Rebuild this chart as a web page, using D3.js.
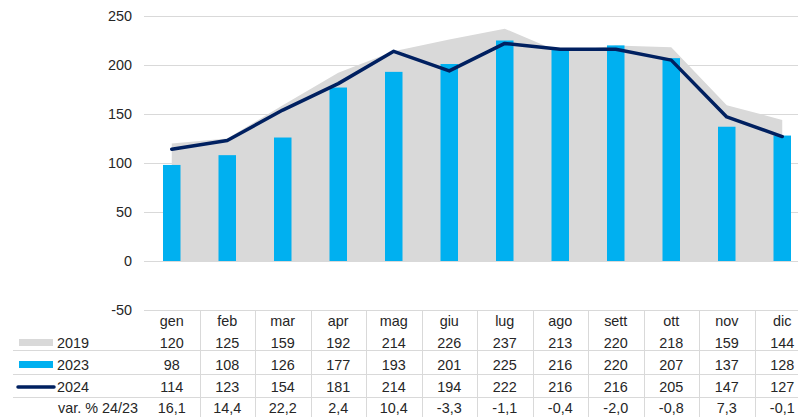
<!DOCTYPE html>
<html>
<head>
<meta charset="utf-8">
<script src="https://cdn.jsdelivr.net/npm/d3@7"></script>
<style>
	body { margin: 0; background: #fff; }
	svg { display: block; font-family: "Liberation Sans", Arial, sans-serif; }
</style>
</head>
<body>
<div id="chart"></div>
<script>

// months
var months = ["gen", "feb", "mar", "apr", "mag", "giu", "lug", "ago", "sett", "ott", "nov", "dic"];

// series
var v2019 = [120, 125, 159, 192, 214, 226, 237, 213, 220, 218, 159, 144];
var v2023 = [98, 108, 126, 177, 193, 201, 225, 216, 220, 207, 137, 128];
var v2024 = [114, 123, 154, 181, 214, 194, 222, 216, 216, 205, 147, 127];
var varperc = ["16,1", "14,4", "22,2", "2,4", "10,4", "-3,3", "-1,1", "-0,4", "-2,0", "-0,8", "7,3", "-0,1"];

var yticks = [-50, 0, 50, 100, 150, 200, 250];

var W = 798, H = 417;
var txtcol = "#262626";
var gridcol = "#d9d9d9";
var fs = 14.4;

var svg = d3.select("#chart").append("svg")
	.attr("width", W)
	.attr("height", H);

var x = d3.scaleBand()
	.domain(months)
	.range([144, 810]);

var y = d3.scaleLinear()
	.domain([-50, 250])
	.range([310, 16]);

var cx = m => x(m) + x.bandwidth() / 2;

// gridlines
svg.append("g")
	.selectAll("line")
	.data(yticks)
	.join("line")
		.attr("x1", 144)
		.attr("x2", W)
		.attr("y1", d => Math.round(y(d)) + 0.5)
		.attr("y2", d => Math.round(y(d)) + 0.5)
		.attr("stroke", gridcol)
		.attr("stroke-width", 1);

// y axis labels
var yaxis = svg.append("g")
	.attr("transform", "translate(144,0)")
	.call(d3.axisLeft(y).tickValues(yticks).tickFormat(d => String(d)).tickSize(0).tickPadding(12));
yaxis.select(".domain").remove();
yaxis.selectAll("text")
	.attr("font-size", fs)
	.attr("font-family", "Liberation Sans, Arial, sans-serif")
	.attr("fill", txtcol);

// 2019 area
var area = d3.area()
	.x((d, i) => cx(months[i]))
	.y0(y(0))
	.y1(d => y(d));

svg.append("path")
	.datum(v2019)
	.attr("d", area)
	.attr("fill", "#d9d9d9");

// 2023 bars
var bw = 17.5;
svg.append("g")
	.selectAll("rect")
	.data(v2023)
	.join("rect")
		.attr("x", (d, i) => cx(months[i]) - bw / 2)
		.attr("y", d => y(d))
		.attr("width", bw)
		.attr("height", d => y(0) - y(d))
		.attr("fill", "#00b0f0");

// 2024 line
var line = d3.line()
	.x((d, i) => cx(months[i]))
	.y(d => y(d));

svg.append("path")
	.datum(v2024)
	.attr("d", line)
	.attr("fill", "none")
	.attr("stroke", "#002060")
	.attr("stroke-width", 3.5)
	.attr("stroke-linejoin", "round")
	.attr("stroke-linecap", "round");

// data table
var table = svg.append("g");

// horizontal rules
[350, 374, 397].forEach(yy => {
	table.append("line")
		.attr("x1", 13).attr("x2", W)
		.attr("y1", yy + 0.5).attr("y2", yy + 0.5)
		.attr("stroke", gridcol);
});

// vertical rules
months.slice(1).forEach(m => {
	table.append("line")
		.attr("x1", Math.round(x(m)) + 0.5).attr("x2", Math.round(x(m)) + 0.5)
		.attr("y1", 310).attr("y2", H)
		.attr("stroke", gridcol);
});

var rows = [
	{ base: 326, vals: months },
	{ base: 348, vals: v2019, label: "2019" },
	{ base: 370, vals: v2023, label: "2023" },
	{ base: 392, vals: v2024, label: "2024" },
	{ base: 413, vals: varperc, label: "var. % 24/23" },
];

rows.forEach((r, ri) => {
	table.append("g")
		.selectAll("text")
		.data(r.vals)
		.join("text")
			.attr("x", (d, i) => cx(months[i]))
			.attr("y", r.base)
			.attr("text-anchor", "middle")
			.attr("font-size", fs)
			.attr("fill", txtcol)
			.text(d => d);

	if (!r.label) return;

	if (ri === 4) {
		table.append("text")
			.attr("x", 138)
			.attr("y", r.base)
			.attr("text-anchor", "end")
			.attr("font-size", fs)
			.attr("fill", txtcol)
			.text(r.label);
	} else {
		table.append("text")
			.attr("x", 57)
			.attr("y", r.base)
			.attr("font-size", fs)
			.attr("fill", txtcol)
			.text(r.label);
	}
});

// legend keys
table.append("rect")
	.attr("x", 19).attr("y", 339)
	.attr("width", 34).attr("height", 7)
	.attr("fill", "#d9d9d9");
table.append("rect")
	.attr("x", 19).attr("y", 361)
	.attr("width", 34).attr("height", 7)
	.attr("fill", "#00b0f0");
table.append("line")
	.attr("x1", 18).attr("x2", 54)
	.attr("y1", 387).attr("y2", 387)
	.attr("stroke", "#002060")
	.attr("stroke-width", 3.5)
	.attr("stroke-linecap", "round");

</script>
</body>
</html>
